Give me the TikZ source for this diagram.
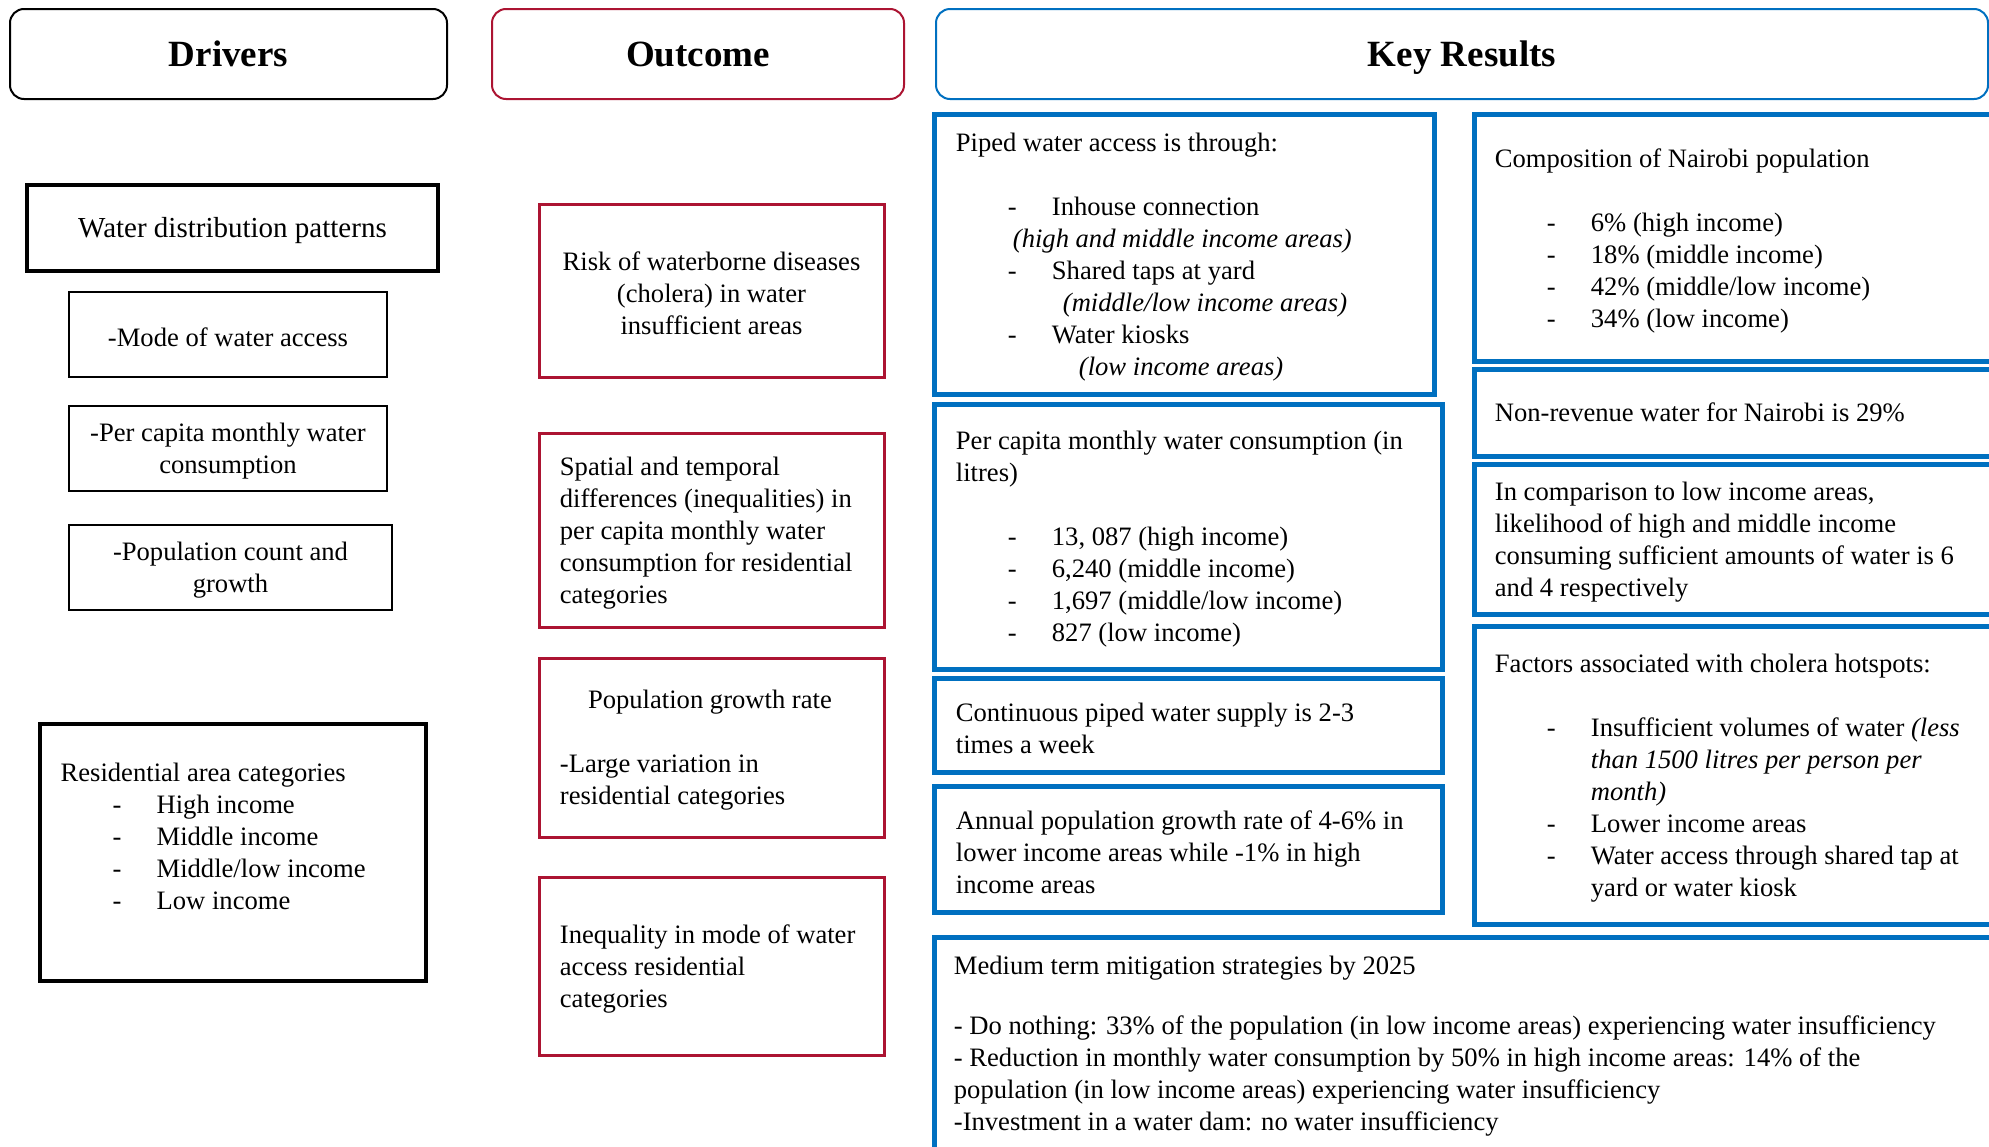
\documentclass[tikz,border=0pt]{standalone}
\usepackage{fontspec}
\setmainfont{Liberation Serif}
\usetikzlibrary{fit}
\definecolor{outred}{RGB}{172,20,50}
\definecolor{keyblue}{RGB}{0,112,192}
% list entry: indented dash, then the entry text at a tab stop
\newcommand{\dashitem}[1]{\hspace*{26pt}\makebox[22pt][l]{-}#1}
\newcommand{\indentby}[2]{\hspace*{#1}#2}
\begin{document}
\begin{tikzpicture}[x=0.5pt, y=-0.5pt,
  frame/.style={draw, inner sep=0pt},
  header/.style={frame, rounded corners=7pt, line width=1pt},
  headtxt/.style={inner sep=0pt, text depth=0pt,
    font=\fontsize{18.5}{22}\selectfont\bfseries},
  drvbox/.style={frame, line width=0.75pt},
  drvmain/.style={frame, line width=1.75pt},
  outbox/.style={frame, draw=outred, line width=1.5pt},
  keybox/.style={frame, draw=keyblue, line width=2.5pt},
  body/.style={inner sep=0pt, align=left, yshift=-1.5pt,
    font=\fontsize{13.3}{16}\selectfont},
  cbody/.style={body, align=center},
]
\useasboundingbox (0,0) rectangle (1989,1146);
\clip (0,0) rectangle (1989,1146);
\fill[white] (0,0) rectangle (1989,1146);

% column headers
\node[header, fit={(10,9) (447,99)}] (hdrivers) {};
\node[headtxt] (hdriverstxt) at (hdrivers.center) {Drivers};
\node[header, draw=outred, fit={(492,9) (904,99)}] (houtcome) {};
\node[headtxt] (houtcometxt) at (houtcome.center) {Outcome};
\node[header, draw=keyblue, fit={(936,9) (1988,99)}] (hresults) {};
\node[headtxt] (hresultstxt) at (hresults.center) {Key Results};

% drivers
\node[drvmain, fit={(27,185) (438,271)}] (wdp) {};
\node[cbody, font=\fontsize{14.5}{17}\selectfont] (wdptxt) at (wdp.center) {Water distribution patterns};
\node[drvbox, fit={(69,292) (387,377)}] (mode) {};
\node[cbody] (modetxt) at (mode.center) {-Mode of water access};
\node[drvbox, fit={(69,406) (387,491)}] (pcap) {};
\node[cbody] (pcaptxt) at (pcap.center) {-Per capita monthly water\\consumption};
\node[drvbox, fit={(69,525) (392,610)}] (popc) {};
\node[cbody] (popctxt) at (popc.center) {-Population count and\\growth};
\node[drvmain, fit={(40,724) (426,981)}] (res) {};
\node[body, anchor=west] (restxt) at ([xshift=11pt, yshift=9.5pt]res.west)
  {Residential area categories\\
   \dashitem{High income}\\
   \dashitem{Middle income}\\
   \dashitem{Middle/low income}\\
   \dashitem{Low income}};

% outcomes
\node[outbox, fit={(539,204) (884,377)}] (risk) {};
\node[cbody] (risktxt) at (risk.center)
  {Risk of waterborne diseases\\(cholera) in water\\insufficient areas};
\node[outbox, fit={(539,433) (884,627)}] (spat) {};
\node[body, anchor=west] (spattxt) at ([xshift=11pt]spat.west)
  {Spatial and temporal\\differences (inequalities) in\\per capita monthly water\\consumption for residential\\categories};
\node[outbox, fit={(539,658) (884,837)}] (popg) {};
\node[body, anchor=west] (popgtxt) at ([xshift=11pt]popg.west)
  {\makebox[150pt][c]{Population growth rate}\\[16pt]
   -Large variation in\\residential categories};
\node[outbox, fit={(539,877) (884,1055)}] (ineq) {};
\node[body, anchor=west] (ineqtxt) at ([xshift=11pt]ineq.west)
  {Inequality in mode of water\\access residential\\categories};

% key results, left column
\node[keybox, fit={(934,114) (1434,394)}] (piped) {};
\node[body, anchor=west] (pipedtxt) at ([xshift=12pt]piped.west)
  {Piped water access is through:\\[16pt]
   \dashitem{Inhouse connection}\\
   \indentby{28.5pt}{\textit{(high and middle income areas)}}\\
   \dashitem{Shared taps at yard}\\
   \indentby{53.5pt}{\textit{(middle/low income areas)}}\\
   \dashitem{Water kiosks}\\
   \indentby{61.5pt}{\textit{(low income areas)}}};
\node[keybox, fit={(934,404) (1442,669)}] (percap) {};
\node[body, anchor=west] (percaptxt) at ([xshift=12pt]percap.west)
  {Per capita monthly water consumption (in\\litres)\\[16pt]
   \dashitem{13, 087 (high income)}\\
   \dashitem{6,240 (middle income)}\\
   \dashitem{1,697 (middle/low income)}\\
   \dashitem{827 (low income)}};
\node[keybox, fit={(934,678) (1442,772)}] (cont) {};
\node[body, anchor=west] (conttxt) at ([xshift=12pt]cont.west)
  {Continuous piped water supply is 2-3\\times a week};
\node[keybox, fit={(934,786) (1442,912)}] (annual) {};
\node[body, anchor=west] (annualtxt) at ([xshift=12pt]annual.west)
  {Annual population growth rate of 4-6\% in\\lower income areas while -1\% in high\\income areas};

% key results, right column
\node[keybox, fit={(1474,114) (2010,361)}] (comp) {};
\node[body, anchor=west] (comptxt) at ([xshift=11.5pt]comp.west)
  {Composition of Nairobi population\\[16pt]
   \dashitem{6\% (high income)}\\
   \dashitem{18\% (middle income)}\\
   \dashitem{42\% (middle/low income)}\\
   \dashitem{34\% (low income)}};
\node[keybox, fit={(1474,369) (2010,456)}] (nrw) {};
\node[body, anchor=west, yshift=1.5pt] (nrwtxt) at ([xshift=11.5pt]nrw.west)
  {Non-revenue water for Nairobi is 29\%};
\node[keybox, fit={(1474,464) (2010,614)}] (likely) {};
\node[body, anchor=west] (likelytxt) at ([xshift=11.5pt]likely.west)
  {In comparison to low income areas,\\likelihood of high and middle income\\consuming sufficient amounts of water is 6\\and 4 respectively};
\node[keybox, fit={(1474,626) (2010,924)}] (cholera) {};
\node[body, anchor=west] (choleratxt) at ([xshift=11.5pt]cholera.west)
  {Factors associated with cholera hotspots:\\[16pt]
   \dashitem{Insufficient volumes of water \textit{(less}}\\
   \indentby{48pt}{\textit{than 1500 litres per person per}}\\
   \indentby{48pt}{\textit{month)}}\\
   \dashitem{Lower income areas}\\
   \dashitem{Water access through shared tap at}\\
   \indentby{48pt}{yard or water kiosk}};

% mitigation strategies
\node[keybox, fit={(934,937) (2010,1150)}] (mitig) {};
\node[body, anchor=west] (mitigtxt) at ([xshift=11pt]mitig.west)
  {Medium term mitigation strategies by 2025\\[14pt]
   - Do nothing: 33\% of the population (in low income areas) experiencing water insufficiency\\
   - Reduction in monthly water consumption by 50\% in high income areas: 14\% of the\\
   population (in low income areas) experiencing water insufficiency\\
   -Investment in a water dam: no water insufficiency};
\end{tikzpicture}
\end{document}
